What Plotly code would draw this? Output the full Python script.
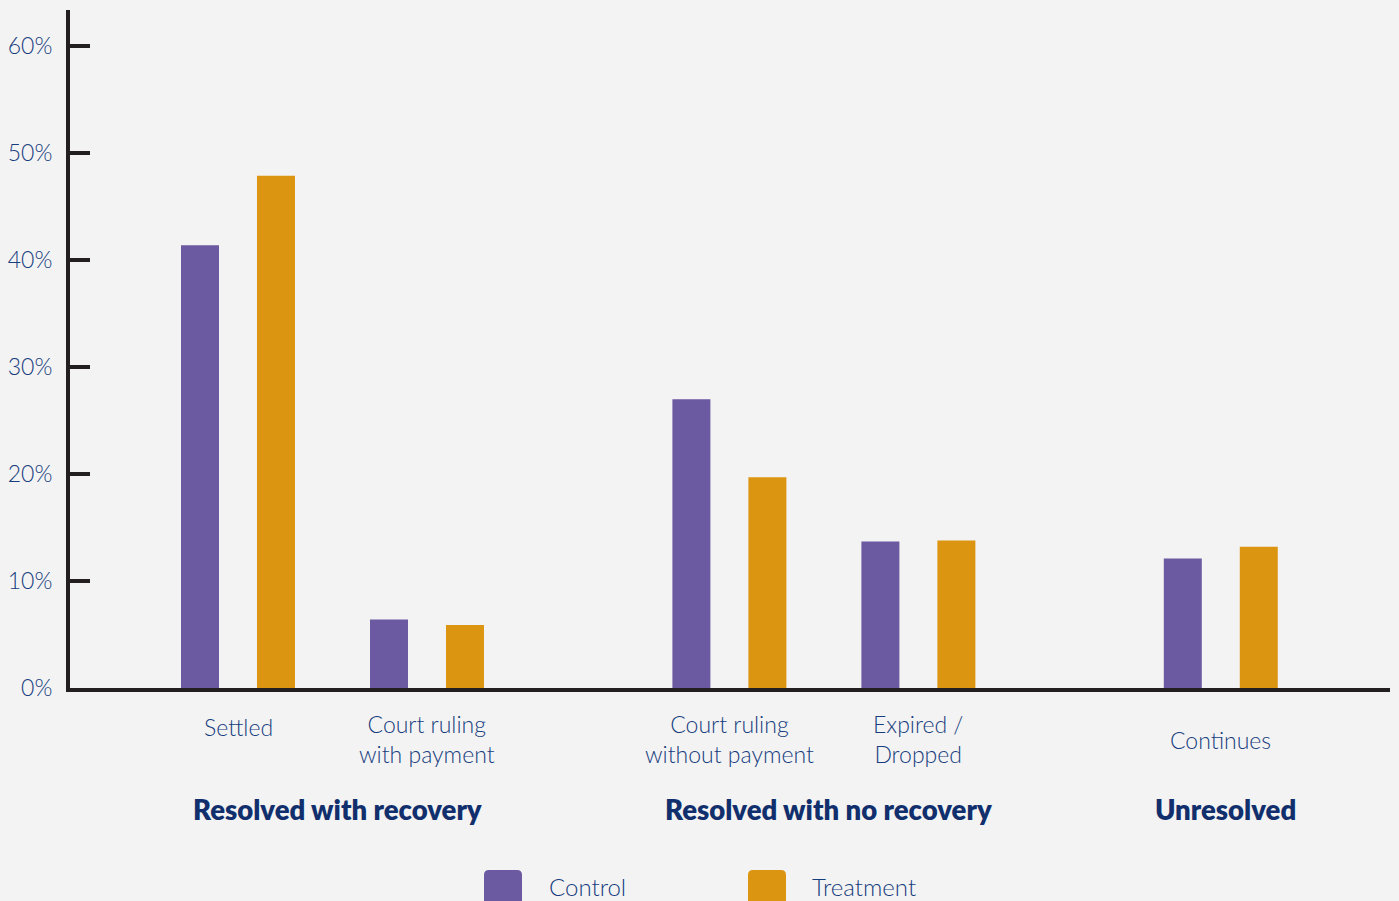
import plotly.graph_objects as go

# ---- data ----
categories = ["Settled", "Court ruling<br>with payment", "Court ruling<br>without payment",
              "Expired /<br>Dropped", "Continues"]
cat_pos = [0, 1, 2.6, 3.6, 5.2]
control = [41.4, 6.4, 27.0, 13.7, 12.1]
treatment = [47.9, 5.9, 19.7, 13.8, 13.2]
groups = ["Resolved with recovery", "Resolved with no recovery", "Unresolved"]
group_members = [[0, 1], [2, 3], [4]]
y_ticks = [0, 10, 20, 30, 40, 50, 60]
y_ticktext = [f"{v}%" for v in y_ticks]
series_names = ["Control", "Treatment"]

PURPLE = "#6b59a1"
ORANGE = "#dc9510"
TXT = "#163d7e"
BOLD = "#112f6c"
AXIS = "#231f20"
BG = "#f3f3f3"
FONT = "Lato"

W, H = 1399, 901
ML, MR, MT, MB = 70, 9, 10, 213
PW = W - ML - MR
PH = H - MT - MB

fig = go.Figure()
fig.add_trace(go.Bar(x=cat_pos, y=control, name=series_names[0], marker_color=PURPLE,
                     width=0.201, offset=-0.3016, marker_line_width=0))
fig.add_trace(go.Bar(x=cat_pos, y=treatment, name=series_names[1], marker_color=ORANGE,
                     width=0.201, offset=0.1005, marker_line_width=0))

annotations = []
label_y = [-0.0575, -0.0752, -0.0752, -0.0752, -0.0767]
for c, p, ly in zip(categories, cat_pos, label_y):
    annotations.append(dict(x=p, y=ly, xref="x", yref="paper", text=c, showarrow=False,
                            xanchor="center", yanchor="middle",
                            font=dict(family=FONT, size=23, color=TXT, weight=300)))
for g, mem in zip(groups, group_members):
    gx = sum(cat_pos[i] for i in mem) / len(mem)
    annotations.append(dict(x=gx, y=-0.1785, xref="x", yref="paper", text=g, showarrow=False,
                            xanchor="center", yanchor="middle", xshift=5,
                            font=dict(family=FONT, size=27.5, color=BOLD, weight=800)))

# legend (drawn manually)
def px2paper(x, y):
    return (x - ML) / PW, (H - MB - y) / PH

def rounded_rect(x0, y0, x1, y1, r):
    def P(x, y):
        a, b = px2paper(x, y)
        return f"{a:.5f},{b:.5f}"
    return (f"M {P(x0 + r, y0)} L {P(x1 - r, y0)} Q {P(x1, y0)} {P(x1, y0 + r)} "
            f"L {P(x1, y1 - r)} Q {P(x1, y1)} {P(x1 - r, y1)} L {P(x0 + r, y1)} "
            f"Q {P(x0, y1)} {P(x0, y1 - r)} L {P(x0, y0 + r)} Q {P(x0, y0)} {P(x0 + r, y0)} Z")

shapes = []
legend_items = [(series_names[0], PURPLE, 484, 547), (series_names[1], ORANGE, 748, 810)]
for name, col, sx, tx in legend_items:
    shapes.append(dict(type="path", xref="paper", yref="paper",
                       path=rounded_rect(sx, 870, sx + 38, 908, 5),
                       fillcolor=col, line=dict(width=0)))
    ax, ay = px2paper(tx, 886)
    annotations.append(dict(x=ax, y=ay, xref="paper", yref="paper", text=name, showarrow=False,
                            xanchor="left", yanchor="middle",
                            font=dict(family=FONT, size=24, color=TXT, weight=300)))

x0u = -(238 - ML) / 189
x1u = x0u + PW / 189
fig.update_layout(
    template="none",
    width=W, height=H,
    margin=dict(l=ML, r=MR, t=MT, b=MB, pad=0),
    paper_bgcolor=BG, plot_bgcolor=BG,
    showlegend=False,
    barmode="overlay",
    font=dict(family=FONT, color=TXT),
    xaxis=dict(range=[x0u, x1u], showgrid=False, zeroline=False, showticklabels=False,
               ticks="", showline=True, linewidth=4, linecolor=AXIS, fixedrange=True,
               automargin=False),
    yaxis=dict(range=[0, 63.4], showgrid=False, zeroline=False, tickvals=y_ticks,
               ticktext=y_ticktext, ticks="inside", ticklen=20, tickwidth=4, tickcolor=AXIS,
               showline=True, linewidth=4, linecolor=AXIS, ticklabelstandoff=9,
               automargin=False, fixedrange=True,
               tickfont=dict(family=FONT, size=23, color=TXT, weight=300)),
    annotations=annotations,
    shapes=shapes,
)

fig.write_html("out.html", config={"displayModeBar": False},
               post_script="document.body.style.margin='0';document.body.style.overflow='hidden';"
                           "document.body.style.background='" + BG + "';")
